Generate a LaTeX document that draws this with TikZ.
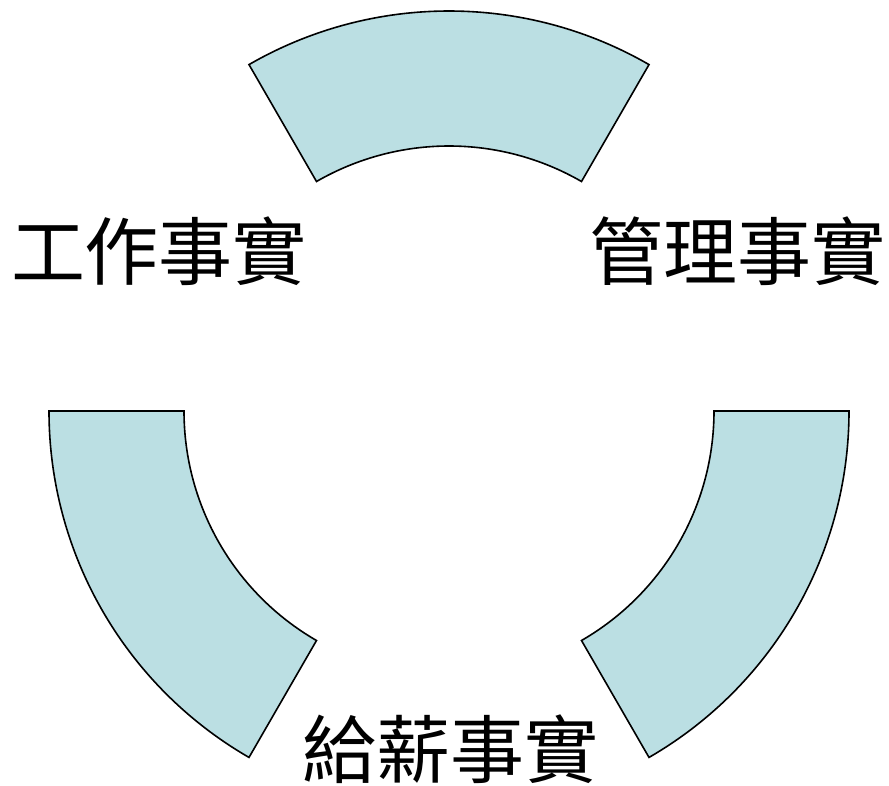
\documentclass[tikz,border=0pt]{standalone}
\usepackage{fontspec}
\newfontfamily\cjk{Noto Sans CJK TC}
\definecolor{secfill}{HTML}{BBDFE3}
\begin{document}
\begin{tikzpicture}[x=1pt,y=-1pt,
  sector/.style={fill=secfill,draw=black,line width=1.6pt,line join=miter},
  lbl/.style={font=\cjk\fontsize{74}{76}\selectfont,inner sep=0pt}]
\useasboundingbox (0,0) rectangle (889,785);
\coordinate (c) at (449,411);
% top sector 60..120 deg (y axis down -> use negative angles)
\draw[sector] ([shift={(-60:400)}]c) arc[start angle=-60,end angle=-120,radius=400]
  -- ([shift={(-120:265)}]c) arc[start angle=-120,end angle=-60,radius=265] -- cycle;
% left sector 180..240
\draw[sector] ([shift={(-180:400)}]c) arc[start angle=-180,end angle=-240,radius=400]
  -- ([shift={(-240:265)}]c) arc[start angle=-240,end angle=-180,radius=265] -- cycle;
% right sector 300..360
\draw[sector] ([shift={(-300:400)}]c) arc[start angle=-300,end angle=-360,radius=400]
  -- ([shift={(-360:265)}]c) arc[start angle=-360,end angle=-300,radius=265] -- cycle;
\node[lbl] (work) at (159,251) {工作事實};
\node[lbl] (mgmt) at (737,251) {管理事實};
\node[lbl] (pay) at (450,749) {給薪事實};
\end{tikzpicture}
\end{document}
